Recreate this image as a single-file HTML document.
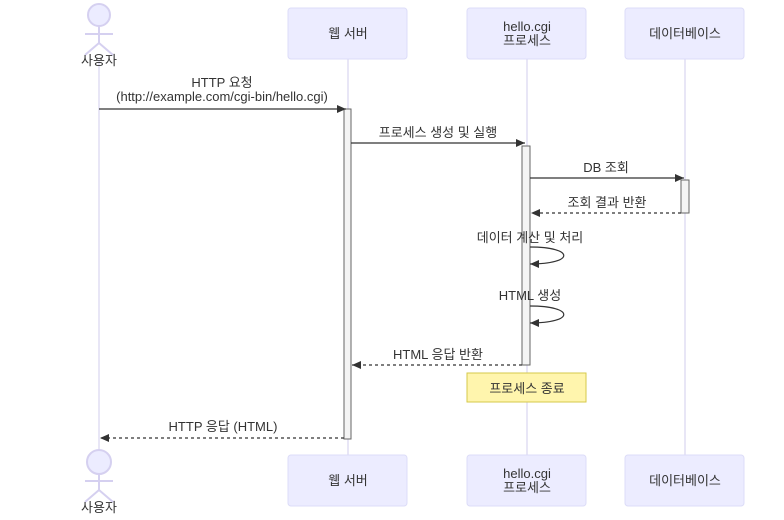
<!DOCTYPE html>
<html><head><meta charset="utf-8"><style>
body{margin:0;background:#fff}
text{font-family:"Liberation Sans","Noto Sans CJK KR",sans-serif;font-size:13px;fill:#333}
.c{text-anchor:middle}
</style></head><body>
<svg width="784" height="515" xmlns="http://www.w3.org/2000/svg">
<defs>
<marker id="a" markerWidth="10" markerHeight="10" refX="9" refY="5" orient="auto" markerUnits="userSpaceOnUse"><path d="M0,1 L9,5 L0,9 z" fill="#333"/></marker>
</defs>
<g stroke="#E0DEF4" stroke-width="1.5">
<line x1="99" y1="60" x2="99" y2="455"/>
<line x1="348" y1="59" x2="348" y2="455"/>
<line x1="527" y1="59" x2="527" y2="455"/>
<line x1="685" y1="59" x2="685" y2="455"/>
</g>
<g fill="#ECECFF" stroke="#DCDCF8">
<rect x="288" y="8" width="119" height="51" rx="3"/>
<rect x="467" y="8" width="119" height="51" rx="3"/>
<rect x="625" y="8" width="119" height="51" rx="3"/>
<rect x="288" y="455" width="119" height="51" rx="3"/>
<rect x="467" y="455" width="119" height="51" rx="3"/>
<rect x="625" y="455" width="119" height="51" rx="3"/>
</g>
<g stroke="#D5D0F0" stroke-width="2" fill="#ECECFF">
<circle cx="99" cy="15" r="11"/>
<line x1="99" y1="26" x2="99" y2="43"/><line x1="85" y1="34" x2="113" y2="34"/>
<line x1="99" y1="43" x2="85" y2="55"/><line x1="99" y1="43" x2="113" y2="55"/>
<circle cx="99" cy="462" r="12"/>
<line x1="99" y1="474" x2="99" y2="490"/><line x1="85" y1="481" x2="113" y2="481"/>
<line x1="99" y1="490" x2="85" y2="502"/><line x1="99" y1="490" x2="113" y2="502"/>
</g>
<text class="c" x="99" y="65">사용자</text>
<text class="c" x="99" y="512">사용자</text>
<text class="c" x="348" y="38">웹 서버</text>
<text class="c" x="348" y="485">웹 서버</text>
<text class="c" x="527" y="31">hello.cgi</text><text class="c" x="527" y="45">프로세스</text>
<text class="c" x="527" y="478">hello.cgi</text><text class="c" x="527" y="492">프로세스</text>
<text class="c" x="685" y="38">데이터베이스</text>
<text class="c" x="685" y="485">데이터베이스</text>
<g fill="#F4F4F4" stroke="#666">
<rect x="344" y="109" width="7" height="330"/>
<rect x="522" y="146" width="8" height="219"/>
<rect x="681" y="180" width="8" height="33"/>
</g>
<rect x="467" y="373" width="119" height="29" fill="#FFF5AD" stroke="#D6C94A"/>
<text class="c" x="527" y="393">프로세스 종료</text>
<g stroke="#333" stroke-width="1.2" fill="none" marker-end="url(#a)">
<line x1="99" y1="109" x2="346" y2="109"/>
<line x1="351" y1="143" x2="525" y2="143"/>
<line x1="530" y1="178" x2="684" y2="178"/>
<line x1="681" y1="213" x2="531" y2="213" stroke-dasharray="3,3"/>
<path d="M530,247 C575,247 575,264 530,264"/>
<path d="M530,306 C575,306 575,323 530,323"/>
<line x1="522" y1="365" x2="352" y2="365" stroke-dasharray="3,3"/>
<line x1="344" y1="438" x2="100" y2="438" stroke-dasharray="3,3"/>
</g>
<text class="c" x="222" y="87">HTTP 요청</text>
<text class="c" x="222" y="101">(http://example.com/cgi-bin/hello.cgi)</text>
<text class="c" x="438" y="137">프로세스 생성 및 실행</text>
<text class="c" x="606" y="172">DB 조회</text>
<text class="c" x="607" y="207">조회 결과 반환</text>
<text class="c" x="530" y="242">데이터 계산 및 처리</text>
<text class="c" x="530" y="300">HTML 생성</text>
<text class="c" x="438" y="359">HTML 응답 반환</text>
<text class="c" x="223" y="431">HTTP 응답 (HTML)</text>
</svg>
</body></html>
